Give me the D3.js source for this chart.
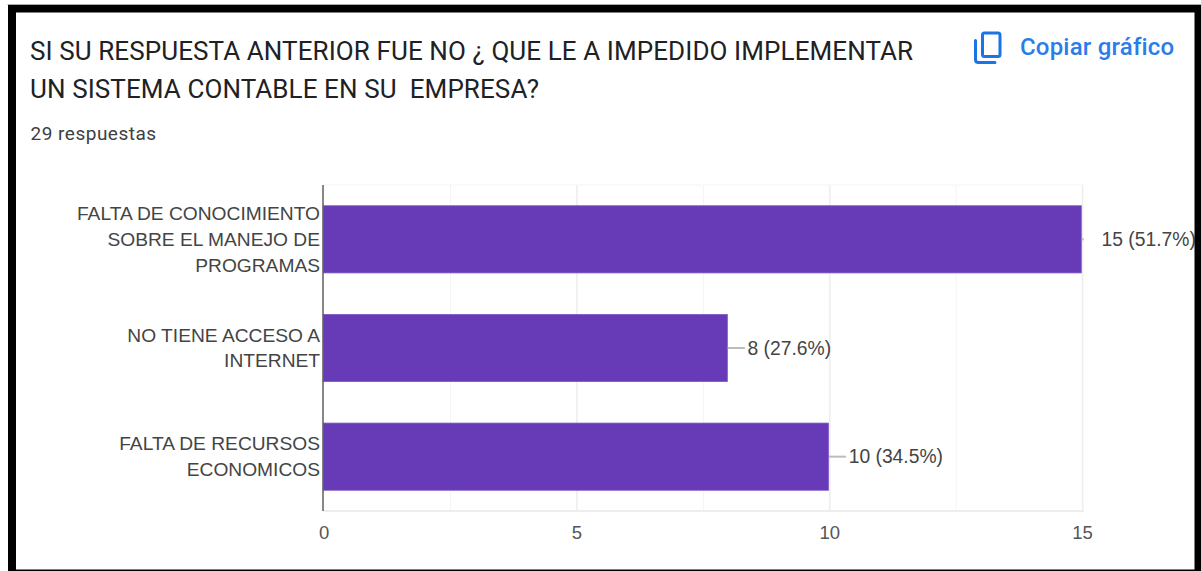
<!DOCTYPE html>
<html><head><meta charset="utf-8">
<script src="https://cdn.jsdelivr.net/npm/d3@7"></script>
<style>html,body{margin:0;padding:0;background:#fff;overflow:hidden}svg{display:block}</style>
</head><body><svg id="c" width="1201" height="571"></svg>
<script>
const categories = [
  ["FALTA DE CONOCIMIENTO","SOBRE EL MANEJO DE","PROGRAMAS"],
  ["NO TIENE ACCESO A","INTERNET"],
  ["FALTA DE RECURSOS","ECONOMICOS"]
];
const values = [15, 8, 10];
const valueLabels = ["15 (51.7%)", "8 (27.6%)", "10 (34.5%)"];
const majorTicks = [0, 5, 10, 15];
const minorTicks = [2.5, 7.5, 12.5];
const titleLines = ["SI SU RESPUESTA ANTERIOR FUE NO ¿ QUE LE A IMPEDIDO IMPLEMENTAR","UN SISTEMA CONTABLE EN SU  EMPRESA?"];
const subtitle = "29 respuestas";
const copyLabel = "Copiar gráfico";

const svg = d3.select("#c");

const x = d3.scaleLinear().domain([0,15]).range([323.3,1081.8]);
const y = d3.scaleBand().domain(d3.range(categories.length)).range([185,511]).paddingInner(0.382).paddingOuter(0.191);
const gridOffset = 0.8;

// title
const t = svg.append("g").attr("font-family","Roboto").attr("fill","#202124");
t.selectAll("text").data(titleLines).join("text")
  .attr("x",30).attr("y",(d,i)=>59.7+i*38).attr("font-size",26).attr("letter-spacing",0.09)
  .attr("xml:space","preserve").style("white-space","pre").text(d=>d);
svg.append("text").attr("x",30.5).attr("y",139.6).attr("font-family","Roboto").attr("font-size",19)
  .attr("letter-spacing",0.5).attr("fill","#3c4043").text(subtitle);

// copy button
const ic = svg.append("g").attr("fill","none").attr("stroke","#1a73e8").attr("stroke-width",3);
ic.append("rect").attr("x",982.5).attr("y",33).attr("width",17.5).attr("height",23.5).attr("rx",2);
ic.append("path").attr("d","M975.5 40.5V59.5q0 3 3 3H995").attr("stroke-linecap","round");
svg.append("text").attr("x",1020).attr("y",54.5).attr("font-family","Roboto").attr("font-weight",500)
  .attr("font-size",24).attr("letter-spacing",0.2).attr("fill","#2a7de9").text(copyLabel);

// grid
const plot = svg.append("g");
plot.selectAll(".minor").data(minorTicks).join("line").attr("class","minor")
  .attr("x1",d=>x(d)+gridOffset).attr("x2",d=>x(d)+gridOffset).attr("y1",185).attr("y2",511).attr("stroke","#f4f4f4");
plot.selectAll(".major").data(majorTicks.slice(1)).join("line").attr("class","major")
  .attr("x1",d=>x(d)+gridOffset).attr("x2",d=>x(d)+gridOffset).attr("y1",185).attr("y2",511).attr("stroke","#eeeeee").attr("stroke-width",1.6);
plot.append("line").attr("x1",323).attr("x2",1084).attr("y1",185).attr("y2",185).attr("stroke","#f4f4f4");
plot.append("line").attr("x1",323).attr("x2",1084).attr("y1",511).attr("y2",511).attr("stroke","#eeeeee").attr("stroke-width",2);

// bars
plot.selectAll(".bar").data(values).join("rect").attr("class","bar")
  .attr("x",x(0)).attr("y",(d,i)=>y(i)).attr("width",d=>x(d)-x(0)-0.5).attr("height",y.bandwidth())
  .attr("fill","#673ab7").attr("stroke","#7e57c2").attr("stroke-width",0.8);

// leader lines and labels
const cy = i => y(i)+y.bandwidth()/2;
plot.selectAll(".lead").data(values).join("line").attr("class","lead")
  .attr("x1",d=>x(d)).attr("x2",d=>d===d3.max(values)? x(d)+2 : x(d)+17).attr("y1",(d,i)=>cy(i)).attr("y2",(d,i)=>cy(i))
  .attr("stroke","#bdbdbd").attr("stroke-width",2);
const lf = "Liberation Sans";
plot.selectAll(".val").data(values).join("text").attr("class","val")
  .attr("x",d=>x(d)+19.7).attr("y",(d,i)=>cy(i)+6.5)
  .attr("font-family",lf).attr("font-size",19.3).attr("fill","#444")
  .text((d,i)=>valueLabels[i]);

// category labels
categories.forEach((lines,i)=>{
  const lh = 25.7, top = cy(i)-(lines.length-1)*lh/2+6.5;
  plot.append("g").selectAll("text").data(lines).join("text")
    .attr("x",320).attr("y",(d,j)=>top+j*lh).attr("text-anchor","end")
    .attr("font-family",lf).attr("font-size",19.2).attr("fill","#444").text(d=>d);
});

// axis
svg.append("line").attr("x1",323).attr("x2",323).attr("y1",185).attr("y2",511).attr("stroke","#555").attr("stroke-width",1.4);
svg.selectAll(".tick").data(majorTicks).join("text").attr("class","tick")
  .attr("x",d=>x(d)+gridOffset).attr("y",539).attr("text-anchor","middle")
  .attr("font-family",lf).attr("font-size",18.5).attr("fill","#555").text(d=>d);

// frame, on top so that it clips the last value label as in the original
svg.append("path").attr("fill-rule","evenodd").attr("fill","#000")
  .attr("d","M8 4H1201V571H8Z M16 12.5V569.5H1194.5V12.5Z");
svg.append("rect").attr("x",7.5).attr("y",4).attr("width",1193.5).attr("height",1).attr("fill","#aaa");
</script></body></html>
